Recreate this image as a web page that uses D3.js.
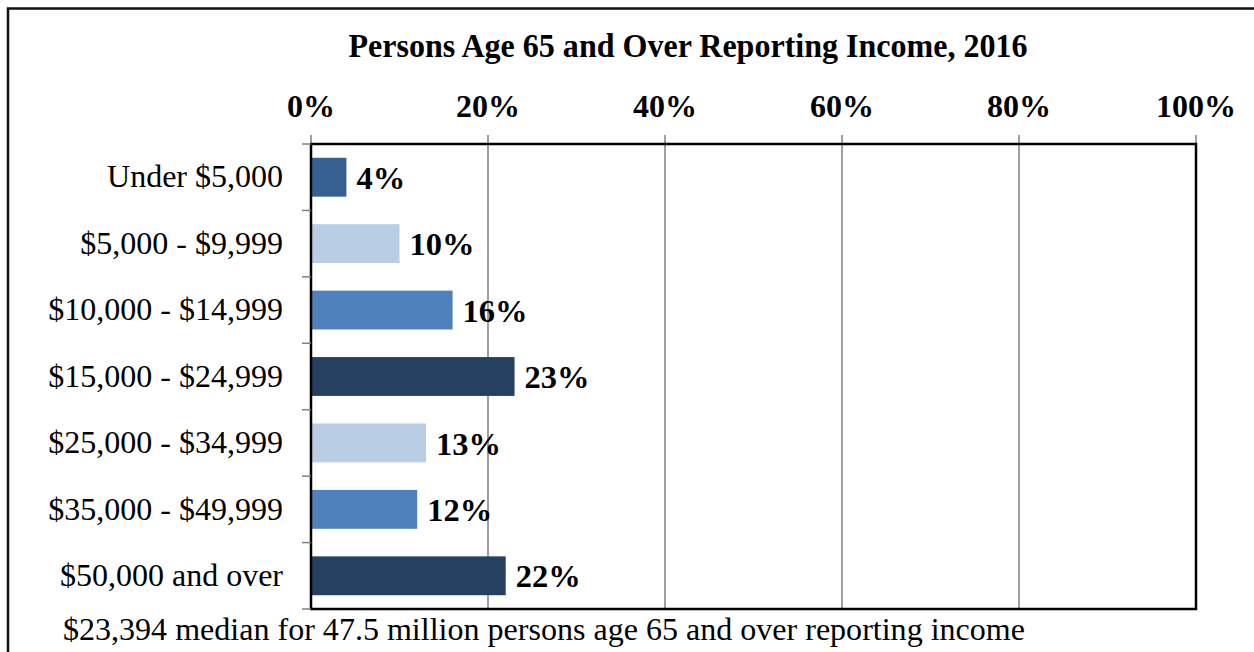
<!DOCTYPE html>
<html>
<head>
<meta charset="utf-8">
<script src="https://cdn.jsdelivr.net/npm/d3@7"></script>
<style>
  html, body { margin: 0; padding: 0; background: #fff; }
  svg { display: block; }
  text { font-family: "Liberation Serif", "Times New Roman", serif; fill: #000; }
</style>
</head>
<body>
<svg id="chart" width="1254" height="652"></svg>
<script>
const title = "Persons Age 65 and Over Reporting Income, 2016";
const footnote = "$23,394 median for 47.5 million persons age 65 and over reporting income";
const categories = ["Under $5,000", "$5,000 - $9,999", "$10,000 - $14,999", "$15,000 - $24,999", "$25,000 - $34,999", "$35,000 - $49,999", "$50,000 and over"];
const values = [4, 10, 16, 23, 13, 12, 22];
const barColors = ["#376092", "#b9cde5", "#4f81bd", "#254061", "#b9cde5", "#4f81bd", "#254061"];
const xTicks = [0, 20, 40, 60, 80, 100];

const svg = d3.select("#chart");
const W = 1254, H = 652;
const m = { left: 311, right: 1196, top: 144, bottom: 609 };

// outer frame
svg.append("rect").attr("x", 8).attr("y", 8.5).attr("width", W + 10).attr("height", H + 10)
  .attr("fill", "none").attr("stroke", "#111").attr("stroke-width", 2.5);

const x = d3.scaleLinear().domain([0, 100]).range([m.left, m.right]);
const y = d3.scaleBand().domain(categories).range([m.top, m.bottom]).paddingInner(0.415).paddingOuter(0.2075);

// gridlines (extend above plot as top tick marks)
svg.append("g").selectAll("line").data(xTicks).join("line")
  .attr("x1", d => x(d)).attr("x2", d => x(d))
  .attr("y1", m.top - 9).attr("y2", m.bottom)
  .attr("stroke", "#7f7f7f").attr("stroke-width", 1.5);

// top tick labels
svg.append("g").selectAll("text").data(xTicks).join("text")
  .attr("x", d => x(d)).attr("y", 117)
  .attr("text-anchor", "middle")
  .attr("font-weight", "bold").attr("font-size", 32)
  .text(d => d + "%");

// bars
svg.append("g").selectAll("rect").data(values).join("rect")
  .attr("x", x(0))
  .attr("y", (d, i) => y(categories[i]))
  .attr("width", d => x(d) - x(0))
  .attr("height", y.bandwidth())
  .attr("fill", (d, i) => barColors[i]);

// plot border
svg.append("rect").attr("x", m.left).attr("y", m.top)
  .attr("width", m.right - m.left).attr("height", m.bottom - m.top)
  .attr("fill", "none").attr("stroke", "#000").attr("stroke-width", 2.5);

// left axis
const yAxis = d3.axisLeft(y).tickSize(0).tickPadding(28);
const gy = svg.append("g").attr("transform", `translate(${m.left},0)`).call(yAxis);
gy.select(".domain").remove();
gy.selectAll("text").attr("font-size", 32).attr("font-family", "Liberation Serif").attr("fill", "#000");

// category boundary tick marks
const bounds = d3.range(categories.length + 1).map(i => m.top + i * (m.bottom - m.top) / categories.length);
svg.append("g").selectAll("line").data(bounds).join("line")
  .attr("x1", m.left - 9).attr("x2", m.left)
  .attr("y1", d => d).attr("y2", d => d)
  .attr("stroke", "#7f7f7f").attr("stroke-width", 1.5);

// value labels
svg.append("g").selectAll("text").data(values).join("text")
  .attr("x", d => x(d) + 10)
  .attr("y", (d, i) => y(categories[i]) + y.bandwidth() / 2)
  .attr("dy", "0.36em")
  .attr("font-weight", "bold").attr("font-size", 32.5)
  .text(d => d + "%");

// title
svg.append("text").attr("x", 688).attr("y", 57)
  .attr("text-anchor", "middle").attr("font-weight", "bold").attr("font-size", 33)
  .attr("textLength", 679).attr("lengthAdjust", "spacingAndGlyphs")
  .text(title);

// footnote
svg.append("text").attr("x", 63).attr("y", 640)
  .attr("font-size", 31)
  .attr("textLength", 962).attr("lengthAdjust", "spacingAndGlyphs")
  .text(footnote);
</script>
</body>
</html>
